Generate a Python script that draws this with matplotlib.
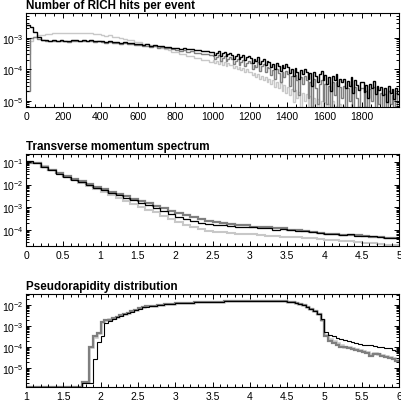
import numpy as np
import matplotlib
matplotlib.use("Agg")
import matplotlib.pyplot as plt
from matplotlib.ticker import MultipleLocator, LogLocator, NullFormatter, FormatStrFormatter

plt.rcParams['font.family'] = ['Liberation Sans', 'DejaVu Sans']
plt.rcParams['mathtext.fontset'] = 'custom'
plt.rcParams['mathtext.rm'] = 'Liberation Sans'
plt.rcParams['mathtext.it'] = 'Liberation Sans:italic'
plt.rcParams['mathtext.bf'] = 'Liberation Sans:bold'

BLACK = '#000000'
DARK = '#7f7f7f'
LIGHT = '#c8c8c8'

# ---- panel 1: number of RICH hits per event ----
# bins of 20 up to 1000, bins of 10 above
hits_edges = np.concatenate([np.arange(0, 1000, 20), np.arange(1000, 2001, 10)])
hits_black = [
    2.5e-3, 2.3e-3, 1.5e-3, 1.05e-3, 8.8e-4,
    8.4e-4, 8.0e-4, 8.6e-4, 8.1e-4, 8.5e-4, 8.2e-4, 7.9e-4, 8.6e-4, 8.3e-4, 8.0e-4,
    8.4e-4, 8.1e-4, 8.5e-4, 7.9e-4, 8.2e-4,
    7.8e-4, 7.4e-4, 7.7e-4, 7.2e-4, 7.5e-4, 7.0e-4, 7.3e-4, 6.8e-4, 6.9e-4, 6.5e-4,
    6.3e-4, 6.0e-4, 6.2e-4, 5.7e-4, 5.9e-4, 5.4e-4, 5.6e-4, 5.2e-4, 5.3e-4, 4.9e-4,
    4.8e-4, 4.5e-4, 4.7e-4, 4.3e-4, 4.4e-4, 4.0e-4, 4.2e-4, 3.8e-4, 3.9e-4, 3.6e-4,
    # 1000 - 1990 in steps of 10
    3.6e-4, 2.9e-4, 3.4e-4, 3.8e-4, 2.7e-4, 3.2e-4, 3.5e-4, 2.6e-4, 3.1e-4, 3.3e-4,
    2.9e-4, 2.2e-4, 2.7e-4, 3.0e-4, 2.1e-4, 2.5e-4, 2.8e-4, 2.0e-4, 2.4e-4, 2.6e-4,
    2.3e-4, 1.6e-4, 2.1e-4, 1.8e-4, 2.4e-4, 1.5e-4, 1.9e-4, 2.2e-4, 1.4e-4, 1.8e-4,
    1.7e-4, 1.2e-4, 1.5e-4, 1.0e-4, 1.6e-4, 1.3e-4, 9.0e-5, 1.4e-4, 1.1e-4, 1.5e-4,
    1.2e-4, 7.5e-5, 1.05e-4, 6.0e-5, 1.1e-4, 8.0e-5, 5.0e-5, 9.5e-5, 7.0e-5, 1.0e-4,
    8.5e-5, 5.0e-5, 7.5e-5, 3.0e-5, 8.0e-5, 6.0e-5, 4.0e-5, 7.0e-5, 9.0e-5, 4.5e-5,
    6.5e-5, 3.5e-5, 5.5e-5, 2.0e-5, 6.0e-5, 4.5e-5, 7.0e-5, 3.0e-5, 5.0e-5, 3.8e-5,
    5.0e-5, 2.5e-5, 4.2e-5, 3.0e-5, 5.5e-5, 1.8e-5, 4.5e-5, 3.2e-5, 2.2e-5, 4.0e-5,
    3.8e-5, 1.9e-5, 3.2e-5, 1.2e-5, 3.5e-5, 2.5e-5, 4.2e-5, 1.6e-5, 3.0e-5, 2.2e-5,
    2.8e-5, 1.5e-5, 2.5e-5, 9.0e-6, 3.0e-5, 1.8e-5, 2.4e-5, 1.1e-5, 2.6e-5, 1.6e-5,
]
hits_dark = [
    2.0e-5, 1.0e-3, 1.05e-3, 9.5e-4, 8.5e-4,
    8.0e-4, 7.8e-4, 8.2e-4, 7.7e-4, 8.1e-4, 7.9e-4, 7.6e-4, 8.2e-4, 7.9e-4, 7.7e-4,
    8.0e-4, 7.8e-4, 8.1e-4, 7.6e-4, 7.9e-4,
    7.5e-4, 7.1e-4, 7.4e-4, 6.9e-4, 7.1e-4, 6.6e-4, 6.9e-4, 6.3e-4, 6.5e-4, 6.0e-4,
    5.9e-4, 5.5e-4, 5.7e-4, 5.2e-4, 5.4e-4, 4.9e-4, 5.0e-4, 4.6e-4, 4.7e-4, 4.3e-4,
    4.2e-4, 3.8e-4, 4.0e-4, 3.6e-4, 3.7e-4, 3.3e-4, 3.4e-4, 3.0e-4, 3.1e-4, 2.8e-4,
    # 1000 - 1990 in steps of 10
    2.7e-4, 2.1e-4, 2.5e-4, 2.9e-4, 1.9e-4, 2.3e-4, 2.6e-4, 1.8e-4, 2.2e-4, 2.4e-4,
    2.1e-4, 1.5e-4, 1.9e-4, 2.2e-4, 1.4e-4, 1.7e-4, 2.0e-4, 1.3e-4, 1.6e-4, 1.8e-4,
    1.6e-4, 1.0e-4, 1.4e-4, 1.2e-4, 1.7e-4, 9.0e-5, 1.3e-4, 1.5e-4, 8.0e-5, 1.2e-4,
    1.1e-4, 6.5e-5, 9.5e-5, 5.0e-5, 1.0e-4, 7.5e-5, 4.0e-5, 8.5e-5, 5.5e-5, 9.0e-5,
    7.0e-5, 3.0e-5, 6.0e-5, 2.0e-5, 6.5e-5, 4.5e-5, 1.5e-5, 5.5e-5, 3.5e-5, 6.0e-5,
    4.5e-5, 1.2e-5, 4.0e-5, 6.0e-6, 5.0e-5, 2.5e-5, 8.0e-6, 3.5e-5, 4.5e-5, 1.0e-5,
    3.5e-5, 8.0e-6, 3.0e-5, 5.0e-6, 3.8e-5, 1.5e-5, 4.0e-5, 6.0e-6, 2.8e-5, 1.2e-5,
    3.0e-5, 5.0e-6, 2.5e-5, 1.0e-5, 3.5e-5, 4.0e-6, 2.8e-5, 1.2e-5, 5.0e-6, 2.5e-5,
    2.5e-5, 6.0e-6, 2.0e-5, 4.0e-6, 2.4e-5, 1.0e-5, 2.8e-5, 5.0e-6, 2.0e-5, 8.0e-6,
    1.8e-5, 5.0e-6, 1.6e-5, 4.0e-6, 2.0e-5, 8.0e-6, 1.5e-5, 4.0e-6, 1.8e-5, 6.0e-6,
]
hits_light = [
    3.0e-4, 8.0e-4, 1.1e-3, 1.2e-3, 1.25e-3,
    1.3e-3, 1.35e-3, 1.38e-3, 1.42e-3, 1.45e-3, 1.4e-3, 1.47e-3, 1.44e-3, 1.48e-3, 1.43e-3,
    1.45e-3, 1.38e-3, 1.4e-3, 1.33e-3, 1.3e-3,
    1.25e-3, 1.18e-3, 1.2e-3, 1.1e-3, 1.05e-3, 9.8e-4, 9.5e-4, 8.8e-4, 8.4e-4, 7.6e-4,
    7.2e-4, 6.6e-4, 6.4e-4, 5.8e-4, 5.6e-4, 5.0e-4, 4.8e-4, 4.3e-4, 4.1e-4, 3.6e-4,
    3.5e-4, 3.1e-4, 3.0e-4, 2.7e-4, 2.6e-4, 2.3e-4, 2.3e-4, 2.0e-4, 2.0e-4, 1.75e-4,
    # 1000 - 1990 in steps of 10
    2.0e-4, 1.6e-4, 1.9e-4, 1.5e-4, 1.8e-4, 1.4e-4, 1.7e-4, 1.3e-4, 1.6e-4, 1.35e-4,
    1.4e-4, 1.1e-4, 1.3e-4, 1.0e-4, 1.2e-4, 9.5e-5, 1.1e-4, 8.5e-5, 1.0e-4, 8.0e-5,
    8.5e-5, 6.5e-5, 7.8e-5, 5.5e-5, 7.0e-5, 5.0e-5, 6.2e-5, 4.5e-5, 5.5e-5, 4.0e-5,
    5.0e-5, 3.4e-5, 4.5e-5, 2.8e-5, 4.0e-5, 2.5e-5, 3.6e-5, 2.0e-5, 3.2e-5, 1.8e-5,
    2.8e-5, 1.5e-5, 2.4e-5, 9.0e-6, 2.2e-5, 1.2e-5, 1.9e-5, 6.0e-6, 1.7e-5, 1.0e-5,
    1.6e-5, 5.0e-6, 1.4e-5, 7.0e-6, 1.2e-5, 3.0e-6, 1.1e-5, 6.0e-6, 1.0e-5, 3.0e-6,
    9.0e-6, 3.0e-6, 8.0e-6, 4.0e-6, 1.0e-5, 2.0e-6, 7.0e-6, 3.0e-6, 8.0e-6, 2.0e-6,
    7.0e-6, 2.0e-6, 6.0e-6, 3.0e-6, 8.0e-6, 2.0e-6, 6.0e-6, 2.0e-6, 7.0e-6, 3.0e-6,
    6.0e-6, 2.0e-6, 7.0e-6, 2.0e-6, 5.0e-6, 3.0e-6, 6.0e-6, 2.0e-6, 5.0e-6, 2.0e-6,
    5.0e-6, 2.0e-6, 6.0e-6, 2.0e-6, 5.0e-6, 2.0e-6, 4.0e-6, 2.0e-6, 5.0e-6, 2.0e-6,
]

# ---- panel 2: transverse momentum spectrum (bins of 0.1) ----
pt_edges = np.linspace(0, 5, 51)
pt_black = [
    0.11, 0.085, 0.06, 0.042, 0.030, 0.022, 0.016, 0.0125, 0.0095, 0.0072,
    0.0055, 0.0043, 0.0034, 0.0026, 0.0020, 0.0016, 0.00125, 0.00095, 0.00072, 0.00052,
    3.8e-4, 3.0e-4, 2.4e-4, 2.0e-4, 1.8e-4, 1.65e-4, 1.6e-4, 1.5e-4, 1.4e-4, 1.35e-4,
    1.3e-4, 1.25e-4, 1.2e-4, 1.05e-4, 1.1e-4, 1.0e-4, 9.5e-5, 8.8e-5, 8.5e-5, 7.5e-5,
    6.6e-5, 7.0e-5, 6.2e-5, 6.5e-5, 5.6e-5, 5.4e-5, 5.5e-5, 5.0e-5, 4.6e-5, 4.3e-5,
]
pt_dark = [
    0.09, 0.085, 0.062, 0.045, 0.032, 0.024, 0.018, 0.014, 0.0105, 0.008,
    0.0062, 0.0049, 0.0039, 0.0030, 0.0024, 0.0019, 0.0015, 0.00118, 0.00092, 0.00072,
    5.6e-4, 4.5e-4, 3.6e-4, 3.0e-4, 2.6e-4, 2.2e-4, 2.0e-4, 1.9e-4, 1.7e-4, 1.6e-4,
    1.4e-4, 1.35e-4, 1.3e-4, 1.25e-4, 1.2e-4, 1.05e-4, 1.0e-4, 9.0e-5, 8.5e-5, 7.8e-5,
    6.8e-5, 6.6e-5, 6.2e-5, 5.8e-5, 6.0e-5, 5.3e-5, 5.0e-5, 5.2e-5, 4.6e-5, 4.4e-5,
]
pt_light = [
    0.10, 0.09, 0.065, 0.045, 0.031, 0.022, 0.016, 0.012, 0.0088, 0.0064,
    0.0047, 0.0035, 0.0026, 0.0019, 0.0014, 0.00105, 0.0008, 0.0006, 0.00043, 0.00031,
    2.2e-4, 1.7e-4, 1.3e-4, 1.1e-4, 9.5e-5, 8.5e-5, 8.0e-5, 7.5e-5, 7.0e-5, 6.5e-5,
    6.5e-5, 6.0e-5, 5.5e-5, 5.6e-5, 5.0e-5, 5.0e-5, 4.8e-5, 4.3e-5, 4.5e-5, 4.0e-5,
    3.6e-5, 3.5e-5, 3.2e-5, 3.3e-5, 2.9e-5, 2.6e-5, 2.7e-5, 2.4e-5, 2.3e-5, 2.2e-5,
]

# ---- panel 3: pseudorapidity distribution (bins of 0.05) ----
eta_edges = np.linspace(1, 6, 101)
eta_black = [
    1.3e-6, 1.3e-6, 1.3e-6, 1.3e-6, 1.3e-6, 1.3e-6, 1.3e-6, 1.3e-6, 1.3e-6, 1.3e-6,
    1.3e-6, 1.3e-6, 1.3e-6, 1.3e-6, 1.3e-6, 1.9e-6, 1.9e-6, 1.9e-6, 2.7e-5, 1.7e-4,
    3.5e-4, 1.4e-3, 1.8e-3, 2.2e-3, 2.6e-3, 3.0e-3, 3.5e-3, 4.0e-3, 4.7e-3, 5.5e-3,
    6.6e-3, 7.8e-3, 8.3e-3, 8.7e-3, 9.1e-3, 9.5e-3, 1.0e-2, 1.05e-2, 1.1e-2, 1.15e-2,
    1.2e-2, 1.22e-2, 1.25e-2, 1.27e-2, 1.3e-2, 1.32e-2, 1.34e-2, 1.36e-2, 1.38e-2, 1.4e-2,
    1.42e-2, 1.44e-2, 1.45e-2, 1.47e-2, 1.48e-2, 1.5e-2, 1.51e-2, 1.52e-2, 1.53e-2, 1.54e-2,
    1.55e-2, 1.55e-2, 1.56e-2, 1.56e-2, 1.55e-2, 1.55e-2, 1.54e-2, 1.52e-2, 1.5e-2, 1.47e-2,
    1.42e-2, 1.35e-2, 1.25e-2, 1.1e-2, 9.5e-3, 8.0e-3, 6.2e-3, 5.0e-3, 3.8e-3, 2.2e-3,
    5.4e-4, 3.8e-4, 3.3e-4, 2.8e-4, 2.4e-4, 2.1e-4, 1.9e-4, 1.7e-4, 1.55e-4, 1.4e-4,
    1.3e-4, 1.2e-4, 1.25e-4, 1.1e-4, 1.0e-4, 9.5e-5, 9.0e-5, 8.5e-5, 7.5e-5, 6.5e-5,
]
eta_dark = [
    1.3e-6, 1.3e-6, 1.3e-6, 1.3e-6, 1.3e-6, 1.3e-6, 1.3e-6, 1.3e-6, 1.3e-6, 1.3e-6,
    1.3e-6, 1.3e-6, 1.3e-6, 1.3e-6, 1.3e-6, 2.2e-6, 2.2e-6, 1.05e-4, 3.2e-4, 4.5e-4,
    1.6e-3, 1.9e-3, 2.0e-3, 2.4e-3, 2.8e-3, 3.2e-3, 3.7e-3, 4.2e-3, 4.9e-3, 5.8e-3,
    6.9e-3, 7.9e-3, 8.4e-3, 8.8e-3, 9.2e-3, 9.6e-3, 1.01e-2, 1.06e-2, 1.1e-2, 1.15e-2,
    1.2e-2, 1.22e-2, 1.25e-2, 1.27e-2, 1.3e-2, 1.32e-2, 1.34e-2, 1.36e-2, 1.38e-2, 1.4e-2,
    1.42e-2, 1.44e-2, 1.45e-2, 1.47e-2, 1.48e-2, 1.5e-2, 1.51e-2, 1.52e-2, 1.53e-2, 1.54e-2,
    1.55e-2, 1.55e-2, 1.56e-2, 1.56e-2, 1.55e-2, 1.55e-2, 1.54e-2, 1.52e-2, 1.5e-2, 1.47e-2,
    1.42e-2, 1.35e-2, 1.25e-2, 1.1e-2, 9.5e-3, 8.0e-3, 6.2e-3, 5.0e-3, 3.6e-3, 2.0e-3,
    3.2e-4, 1.95e-4, 1.6e-4, 1.3e-4, 1.05e-4, 9.5e-5, 8.8e-5, 8.2e-5, 7.2e-5, 6.5e-5,
    5.6e-5, 5.2e-5, 3.9e-5, 4.8e-5, 4.5e-5, 3.6e-5, 3.2e-5, 3.0e-5, 2.6e-5, 2.2e-5,
]
eta_light = [
    1.3e-6, 1.3e-6, 1.3e-6, 1.3e-6, 1.3e-6, 1.3e-6, 1.3e-6, 1.3e-6, 1.3e-6, 1.3e-6,
    1.3e-6, 1.3e-6, 1.3e-6, 1.3e-6, 1.3e-6, 2.2e-6, 2.2e-6, 1.0e-4, 3.0e-4, 4.6e-4,
    1.5e-3, 1.9e-3, 2.1e-3, 2.4e-3, 2.8e-3, 3.2e-3, 3.7e-3, 4.2e-3, 4.9e-3, 5.8e-3,
    6.9e-3, 7.9e-3, 8.4e-3, 8.8e-3, 9.2e-3, 9.6e-3, 1.01e-2, 1.06e-2, 1.1e-2, 1.15e-2,
    1.2e-2, 1.22e-2, 1.25e-2, 1.27e-2, 1.3e-2, 1.32e-2, 1.34e-2, 1.36e-2, 1.38e-2, 1.4e-2,
    1.42e-2, 1.44e-2, 1.45e-2, 1.47e-2, 1.48e-2, 1.5e-2, 1.51e-2, 1.52e-2, 1.53e-2, 1.54e-2,
    1.55e-2, 1.55e-2, 1.56e-2, 1.56e-2, 1.55e-2, 1.55e-2, 1.54e-2, 1.52e-2, 1.5e-2, 1.47e-2,
    1.42e-2, 1.35e-2, 1.25e-2, 1.1e-2, 9.5e-3, 8.0e-3, 6.2e-3, 5.0e-3, 3.6e-3, 2.0e-3,
    3.6e-4, 2.3e-4, 1.9e-4, 1.5e-4, 1.2e-4, 1.05e-4, 9.5e-5, 8.6e-5, 7.8e-5, 7.0e-5,
    6.2e-5, 5.5e-5, 4.6e-5, 5.0e-5, 4.6e-5, 4.0e-5, 3.6e-5, 3.2e-5, 2.9e-5, 2.5e-5,
]

titles = ["Number of RICH hits per event", "Transverse momentum spectrum",
          "Pseudorapidity distribution"]

W, H = 401, 402
fig = plt.figure(figsize=(W / 100, H / 100), dpi=100)


def make_axes(top_px, bottom_px):
    return fig.add_axes([26 / W, 1 - bottom_px / H, 373 / W, (bottom_px - top_px) / H])


def style(ax, title, xmajor, xminor, fmt):
    ax.set_yscale('log')
    ax.xaxis.set_major_locator(MultipleLocator(xmajor))
    ax.xaxis.set_minor_locator(MultipleLocator(xminor))
    ax.xaxis.set_major_formatter(FormatStrFormatter(fmt))
    ax.yaxis.set_major_locator(LogLocator(base=10, numticks=20))
    ax.yaxis.set_minor_locator(LogLocator(base=10, subs=np.arange(2, 10), numticks=20))
    ax.yaxis.set_minor_formatter(NullFormatter())
    ax.tick_params(which='both', direction='in', top=True, right=True,
                   labelsize=7.5, width=0.7, color='black')
    ax.tick_params(which='major', length=3.8)
    ax.tick_params(which='minor', length=2.0)
    ax.tick_params(axis='x', pad=3)
    ax.tick_params(axis='y', pad=1.5)
    for sp in ax.spines.values():
        sp.set_linewidth(0.8)
    ax.set_title(title, loc='left', fontsize=8.4, fontweight='bold', pad=3.5)


ax1 = make_axes(14, 108)
ax1.stairs(hits_light, hits_edges, baseline=None, color=LIGHT, lw=1.0)
ax1.stairs(hits_dark, hits_edges, baseline=None, color=DARK, lw=1.0)
ax1.stairs(hits_black, hits_edges, baseline=None, color=BLACK, lw=1.0)
style(ax1, titles[0], 200, 50, '%g')
ax1.set_xlim(0, 2000)
ax1.set_ylim(6.3e-6, 6.2e-3)
ax1.set_xticks(np.arange(0, 1801, 200))

ax2 = make_axes(155, 247)
ax2.stairs(pt_light, pt_edges, baseline=None, color=LIGHT, lw=1.5)
ax2.stairs(pt_dark, pt_edges, baseline=None, color=DARK, lw=1.6)
ax2.stairs(pt_black, pt_edges, baseline=None, color=BLACK, lw=0.9)
style(ax2, titles[1], 0.5, 0.1, '%g')
ax2.set_xlim(0, 5)
ax2.set_ylim(2e-5, 0.22)

ax3 = make_axes(295, 388)
ax3.stairs(eta_light, eta_edges, baseline=None, color=LIGHT, lw=1.8)
ax3.stairs(eta_dark, eta_edges, baseline=None, color=DARK, lw=1.6)
ax3.stairs(eta_black, eta_edges, baseline=None, color=BLACK, lw=0.8)
style(ax3, titles[2], 0.5, 0.1, '%g')
ax3.set_xlim(1, 6)
ax3.set_ylim(1.25e-6, 0.033)

fig.savefig('out.png', dpi=100)
